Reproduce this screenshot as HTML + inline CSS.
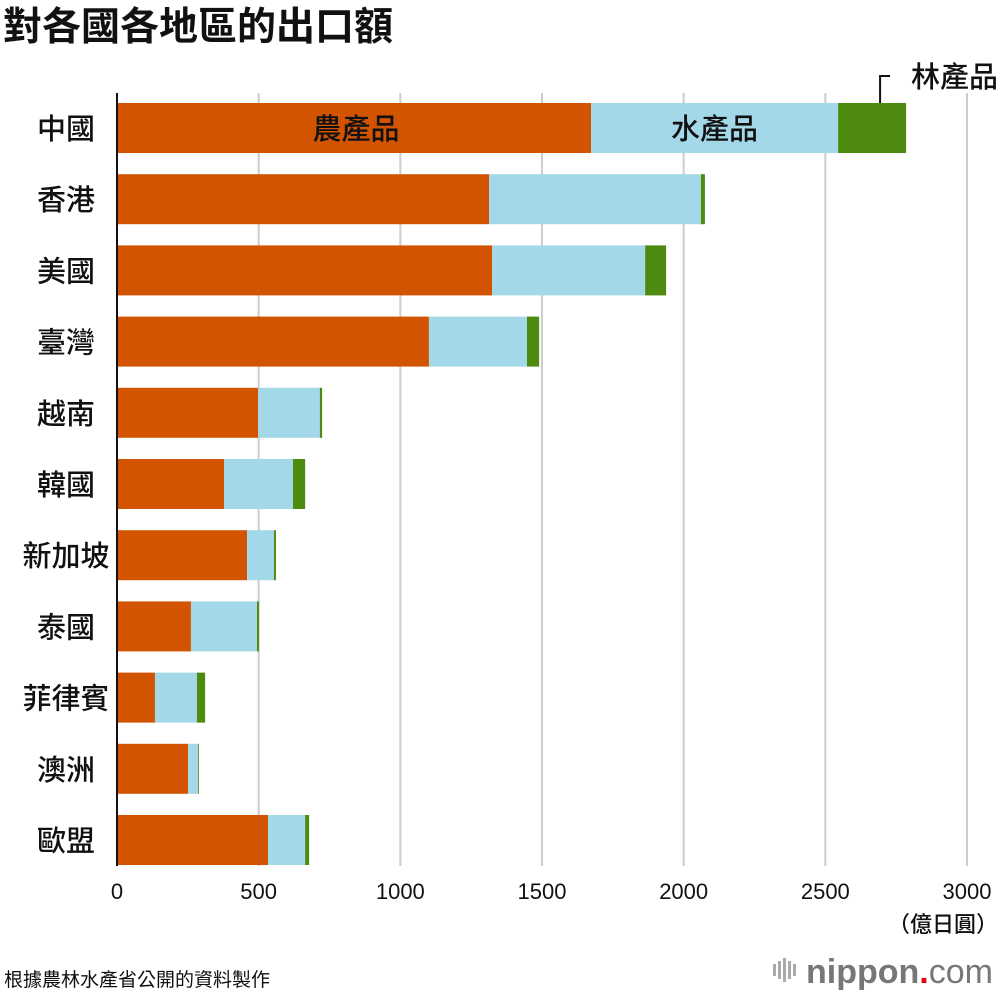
<!DOCTYPE html>
<html><head><meta charset="utf-8">
<style>
body{margin:0;background:#fff;}
svg{display:block;font-family:"Liberation Sans","Noto Sans CJK TC",sans-serif;}
</style></head>
<body>
<svg id="chart" width="1000" height="996" viewBox="0 0 1000 996">
<text x="3" y="40" font-size="39" font-weight="bold" fill="#111">對各國各地區的出口額</text>
<g id="grid"></g>
<g id="bars"></g>
<g id="labels"></g>
<line x1="117" y1="93" x2="117" y2="866" stroke="#111" stroke-width="2"/>
<text x="998" y="932" font-size="22" font-weight="500" text-anchor="end" fill="#111">（億日圓）</text>
<text x="4" y="986" font-size="19" fill="#111">根據農林水產省公開的資料製作</text>
<g>
<g fill="#aaa"><rect x="773" y="964" width="3" height="12"/><rect x="778" y="961" width="3" height="18"/><rect x="783" y="958" width="3" height="24"/><rect x="788" y="961" width="3" height="18"/><rect x="793" y="964" width="3" height="12"/></g>
<text x="806" y="983" font-size="34" font-weight="bold" fill="#777">nippon<tspan fill="#e60012">.</tspan><tspan font-weight="normal">com</tspan></text>
</g>
</svg>
<script>
const categories=["中國","香港","美國","臺灣","越南","韓國","新加坡","泰國","菲律賓","澳洲","歐盟"];
const agri=[1673,1313,1324,1101,498,378,459,261,134,251,533];
const fish=[872,748,540,346,218,243,95,233,148,35,131];
const forest=[240,14,74,43,8,43,7,7,29,3,14];
const ticks=[0,500,1000,1500,2000,2500,3000];
const NS="http://www.w3.org/2000/svg";
const x=v=>117+v*850/3000;
const rowY=i=>128+i*71.2;
const bh=50;
function mk(tag,attrs,parent){const e=document.createElementNS(NS,tag);for(const k in attrs)e.setAttribute(k,attrs[k]);parent.appendChild(e);return e;}
const grid=document.getElementById('grid'),bars=document.getElementById('bars'),labels=document.getElementById('labels');
ticks.forEach(t=>{
  if(t>0){const l=mk('line',{x1:x(t),x2:x(t),y1:93,y2:866,stroke:'#ccc','stroke-width':2},grid);
  
  }
  const tx=mk('text',{x:x(t),y:899,'font-size':22,'font-weight':500,'text-anchor':'middle',fill:'#111'},labels);
  tx.textContent=t;
  
  
});
const cols=['#d35400','#a3d8e8','#4e8a10'];
categories.forEach((c,i)=>{
  const cy=rowY(i);
  const lab=mk('text',{x:66,y:cy+11,'font-size':29,'font-weight':500,'text-anchor':'middle',fill:'#111'},labels);
  lab.textContent=c;
  
  
  let s=0;
  [agri[i],fish[i],forest[i]].forEach((v,k)=>{
    const r=mk('rect',{x:x(s),y:cy-bh/2,width:x(s+v)-x(s),height:bh,fill:cols[k]},bars);
    
    
    s+=v;
  });
});
const c0=rowY(0);
const l1=mk('text',{x:(x(0)+x(agri[0]))/2+2,y:c0+11,'font-size':29,'font-weight':500,'text-anchor':'middle',fill:'#111'},labels);
l1.textContent='農產品';


const l2=mk('text',{x:(x(agri[0])+x(agri[0]+fish[0]))/2,y:c0+11,'font-size':29,'font-weight':500,'text-anchor':'middle',fill:'#111'},labels);
l2.textContent='水產品';


const fx=x(agri[0]+fish[0])+42;
const ln=mk('polyline',{points:`${fx},103 ${fx},76 ${fx+10},76`,fill:'none',stroke:'#111','stroke-width':2},labels);


const l3=mk('text',{x:998,y:87,'font-size':29,'font-weight':500,'text-anchor':'end',fill:'#111'},labels);
l3.textContent='林產品';


</script>
</body></html>
